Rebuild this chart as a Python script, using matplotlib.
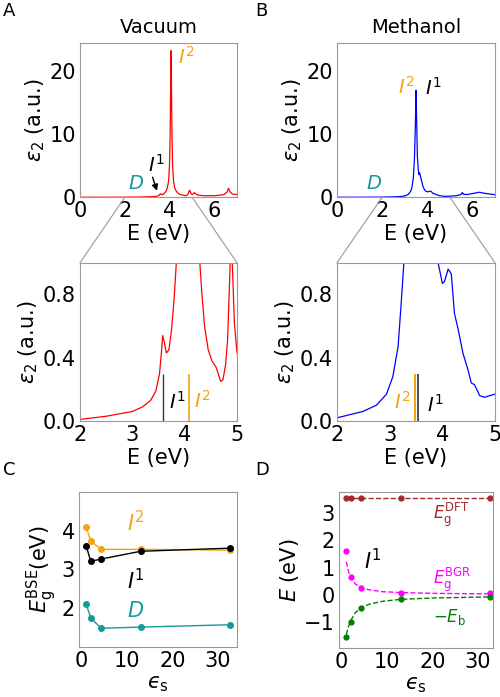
import numpy as np
import matplotlib
matplotlib.use("Agg")
import matplotlib.pyplot as plt
from matplotlib.patches import ConnectionPatch

# ---- spectra (E in eV, eps2 in a.u.) ----
vac_E = [0.0, 1.0, 2.0, 2.5, 3.0, 3.2, 3.35, 3.45, 3.52, 3.56, 3.58, 3.61, 3.65,
         3.70, 3.75, 3.80, 3.85, 3.90, 3.95, 3.99, 4.02, 4.04, 4.06, 4.08, 4.10,
         4.13, 4.17, 4.22, 4.28, 4.33, 4.38, 4.45, 4.52, 4.56, 4.60, 4.65, 4.69,
         4.73, 4.78, 4.82, 4.85, 4.88, 4.91, 4.95, 5.0, 5.05, 5.1, 5.15, 5.25,
         5.5, 6.0, 6.4, 6.55, 6.62, 6.68, 6.8, 7.0]
vac_eps2 = [0.0, 0.003, 0.01, 0.03, 0.06, 0.09, 0.13, 0.19, 0.30, 0.45, 0.54, 0.50, 0.43,
            0.45, 0.58, 0.78, 1.05, 1.6, 2.6, 5.0, 10.0, 17.0, 23.3, 17.0, 10.0,
            5.0, 2.6, 1.5, 1.05, 0.80, 0.60, 0.45, 0.38, 0.36, 0.34, 0.29, 0.25,
            0.26, 0.35, 0.51, 0.80, 1.10, 1.00, 0.62, 0.43, 0.55, 0.74, 0.55, 0.35,
            0.25, 0.25, 0.40, 0.80, 1.43, 0.90, 0.50, 0.45]

meth_E = [0.0, 1.0, 2.0, 2.49, 2.75, 2.94, 3.06, 3.16, 3.22, 3.27, 3.32, 3.38, 3.43,
          3.47, 3.50, 3.53, 3.56, 3.60, 3.63, 3.66, 3.70, 3.75, 3.80, 3.86, 3.92,
          4.00, 4.04, 4.11, 4.17, 4.23, 4.30, 4.39, 4.49, 4.55, 4.61, 4.71, 4.80,
          5.0, 5.3, 5.5, 5.55, 5.62, 5.8, 6.1, 6.3, 6.5, 6.8, 7.0]
meth_eps2 = [0.0, 0.005, 0.02, 0.06, 0.10, 0.17, 0.28, 0.47, 0.75, 1.0, 1.6, 3.0, 6.0,
             11.0, 17.0, 12.0, 6.5, 4.5, 3.6, 3.9, 3.3, 2.6, 1.8, 1.3, 1.0,
             0.87, 0.88, 0.96, 0.93, 0.68, 0.58, 0.43, 0.32, 0.24, 0.23, 0.16, 0.15,
             0.17, 0.25, 0.45, 0.75, 0.45, 0.45, 0.65, 0.80, 0.65, 0.50, 0.40]

# exciton energies (eV)
vac_I1, vac_I2 = 3.58, 4.08
meth_I1, meth_I2 = 3.53, 3.49

# ---- solvent dependence ----
eps_s = [1.0, 2.0, 4.3, 13.0, 32.6]
E_I2 = [4.09, 3.73, 3.52, 3.52, 3.50]
E_I1 = [3.60, 3.21, 3.27, 3.47, 3.55]
E_D = [2.10, 1.74, 1.48, 1.51, 1.57]

E_dft = [3.54, 3.54, 3.54, 3.54, 3.54]
E_bgr = [1.61, 0.65, 0.25, 0.08, 0.06]
E_b_neg = [-1.53, -0.98, -0.49, -0.16, -0.06]

# dashed fit curves
fit_eps = [1.0, 1.5, 2.0, 3.0, 4.3, 6.0, 9.0, 13.0, 20.0, 32.6]
fit_bgr = [1.22, 0.85, 0.63, 0.40, 0.27, 0.19, 0.12, 0.09, 0.06, 0.04]
fit_eb = [-1.45, -1.15, -0.93, -0.65, -0.47, -0.34, -0.23, -0.16, -0.11, -0.07]

ORANGE = '#f4a413'
TEAL = '#17999a'
SPINE = '#999999'

plt.rcParams['font.family'] = 'DejaVu Sans'
plt.rcParams['mathtext.fontset'] = 'dejavusans'
plt.rcParams['font.size'] = 15

EPS2_LABEL = '$\u03b5_2$ (a.u.)'      # curly epsilon
EPS_S_LABEL = '$\u03f5_\\mathrm{s}$'  # lunate epsilon

fig = plt.figure(figsize=(5, 6.97), dpi=100)

axA = fig.add_axes([0.16, 0.717, 0.314, 0.222])
axB = fig.add_axes([0.674, 0.717, 0.316, 0.222])
axA2 = fig.add_axes([0.16, 0.396, 0.314, 0.227])
axB2 = fig.add_axes([0.674, 0.396, 0.316, 0.227])
axC = fig.add_axes([0.158, 0.072, 0.316, 0.222])
axD = fig.add_axes([0.678, 0.070, 0.308, 0.224])

for ax in [axA, axB, axA2, axB2, axC, axD]:
    for sp in ax.spines.values():
        sp.set_color(SPINE)
        sp.set_linewidth(0.8)
    ax.tick_params(length=0, labelsize=15, pad=3)

# top spectra
axA.plot(vac_E, vac_eps2, color='red', lw=0.9)
axB.plot(meth_E, meth_eps2, color='blue', lw=0.9)
for ax, title in [(axA, 'Vacuum'), (axB, 'Methanol')]:
    ax.set_xlim(0, 7)
    ax.set_ylim(0, 24.6)
    ax.set_xticks([0, 2, 4, 6])
    ax.set_yticks([0, 10, 20])
    ax.set_xlabel('E (eV)', fontsize=15, labelpad=2)
    ax.set_ylabel(EPS2_LABEL, fontsize=15, labelpad=2)
    ax.set_title(title, fontsize=14, pad=7)

axA.text(4.35, 22.3, r'$I^2$', color=ORANGE, fontsize=14, va='center')
axA.text(3.05, 5.2, r'$I^1$', color='black', fontsize=14, va='center')
axA.annotate('', xy=(3.47, 0.6), xytext=(3.2, 3.6),
             arrowprops=dict(arrowstyle='-|>', color='black', lw=1.0, mutation_scale=9))
axA.text(2.15, 2.2, r'$D$', color=TEAL, fontsize=14, va='center')

axB.text(2.72, 17.6, r'$I^2$', color=ORANGE, fontsize=14, va='center')
axB.text(3.92, 17.4, r'$I^1$', color='black', fontsize=14, va='center')
axB.text(1.28, 2.2, r'$D$', color=TEAL, fontsize=14, va='center')

# zoomed spectra
axA2.plot(vac_E, vac_eps2, color='red', lw=0.9)
axB2.plot(meth_E, meth_eps2, color='blue', lw=0.9)
for ax in [axA2, axB2]:
    ax.set_xlim(2, 5)
    ax.set_ylim(0, 1.0)
    ax.set_xticks([2, 3, 4, 5])
    ax.set_yticks([0.0, 0.4, 0.8])
    ax.set_yticklabels(['0.0', '0.4', '0.8'])
    ax.set_xlabel('E (eV)', fontsize=15, labelpad=2)
    ax.set_ylabel(EPS2_LABEL, fontsize=15, labelpad=2)

axA2.vlines(vac_I1, 0, 0.3, color='#333333', lw=1.0)
axA2.vlines(vac_I2, 0, 0.3, color=ORANGE, lw=1.2)
axA2.text(vac_I1 + 0.12, 0.12, r'$I^1$', color='black', fontsize=14, va='center')
axA2.text(vac_I2 + 0.1, 0.13, r'$I^2$', color=ORANGE, fontsize=14, va='center')

axB2.vlines(meth_I2, 0, 0.3, color=ORANGE, lw=1.5)
axB2.vlines(meth_I1, 0, 0.3, color='#333333', lw=1.2)
axB2.text(meth_I2 - 0.4, 0.12, r'$I^2$', color=ORANGE, fontsize=14, va='center')
axB2.text(meth_I1 + 0.17, 0.10, r'$I^1$', color='black', fontsize=14, va='center')

# connectors from the full view to the zoomed view
for top, bot in [(axA, axA2), (axB, axB2)]:
    for xd, xa in [(2, 0), (5, 1)]:
        con = ConnectionPatch(xyA=(xd, 0), coordsA=top.transData,
                              xyB=(xa, 1), coordsB=bot.transAxes,
                              color='#999999', lw=0.8)
        fig.add_artist(con)

# panel C
axC.plot(eps_s, E_I2, '-o', color=ORANGE, ms=4, lw=1.0)
axC.plot(eps_s, E_I1, '-o', color='black', ms=4, lw=1.0)
axC.plot(eps_s, E_D, '-o', color=TEAL, ms=4, lw=1.0)
axC.set_xlim(-0.6, 34.2)
axC.set_ylim(1.0, 5.0)
axC.set_xticks([0, 10, 20, 30])
axC.set_yticks([2, 3, 4])
axC.set_xlabel(EPS_S_LABEL, fontsize=15, labelpad=2)
axC.set_ylabel(r'$E_\mathrm{g}^\mathrm{BSE}$(eV)', fontsize=15, labelpad=2)
axC.text(10, 4.2, r'$I^2$', color=ORANGE, fontsize=15, va='center')
axC.text(10, 2.72, r'$I^1$', color='black', fontsize=15, va='center')
axC.text(10, 1.93, r'$D$', color=TEAL, fontsize=15, va='center')

# panel D
axD.plot(eps_s, E_dft, '--o', color='brown', ms=3.5, lw=1.0)
axD.plot(eps_s, E_bgr, 'o', color='magenta', ms=3.5)
axD.plot(fit_eps, fit_bgr, '--', color='magenta', lw=1.0)
axD.plot(eps_s, E_b_neg, 'o', color='green', ms=3.5)
axD.plot(fit_eps, fit_eb, '--', color='green', lw=1.0)
axD.set_xlim(-0.6, 33.3)
axD.set_ylim(-1.95, 3.77)
axD.set_xticks([0, 10, 20, 30])
axD.set_yticks([-1, 0, 1, 2, 3])
axD.set_yticklabels(['\u22121', '0', '1', '2', '3'])
axD.set_xlabel(EPS_S_LABEL, fontsize=15, labelpad=2)
axD.set_ylabel(r'$E$ (eV)', fontsize=15, labelpad=2)
axD.text(20, 2.95, r'$E_\mathrm{g}^\mathrm{DFT}$', color='brown', fontsize=12, va='center')
axD.text(5.0, 1.25, r'$I^1$', color='black', fontsize=15, va='center')
axD.text(20, 0.55, r'$E_\mathrm{g}^\mathrm{BGR}$', color='magenta', fontsize=12, va='center')
axD.text(20, -0.8, r'$-E_\mathrm{b}$', color='green', fontsize=12, va='center')

# panel letters
for lab, x, y in [('A', 0.005, 0.997), ('B', 0.51, 0.997), ('C', 0.005, 0.338), ('D', 0.51, 0.338)]:
    fig.text(x, y, lab, fontsize=13, ha='left', va='top')

fig.savefig('out.png', dpi=100)
